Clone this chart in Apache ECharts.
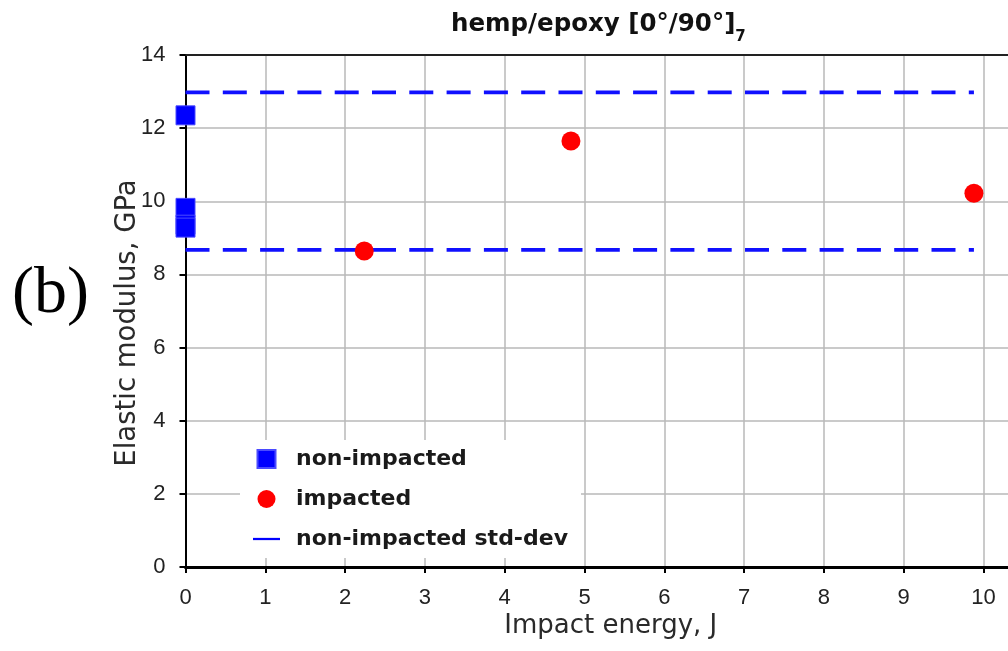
<!DOCTYPE html>
<html>
<head>
<meta charset="utf-8">
<title>hemp/epoxy [0°/90°]7 – elastic modulus vs impact energy</title>
<script src="https://cdn.jsdelivr.net/npm/echarts@6/dist/echarts.min.js"></script>
<style>
  html, body { margin: 0; padding: 0; background: #ffffff; }
  #chart { width: 1008px; height: 651px; }
</style>
</head>
<body>
<div id="chart"></div>
<script>
// Specimens tested without impact (all at 0 J)
const nonImpactedEnergy = [0, 0, 0, 0];
const nonImpactedModulus = [12.35, 9.82, 9.36, 9.28];

// Specimens tested after impact
const impactedEnergy = [2.24, 4.83, 9.88];
const impactedModulus = [8.64, 11.65, 10.22];

// Standard-deviation band of the non-impacted set
const stdDevEnergy = [0, 9.88];
const stdDevUpper = [12.98, 12.98];
const stdDevLower = [8.67, 8.67];

// Axis ticks; the energy axis runs a little past the last labelled tick
const energyTicks = [0, 1, 2, 3, 4, 5, 6, 7, 8, 9, 10];
const modulusTicks = [0, 2, 4, 6, 8, 10, 12, 14];
const energyAxisEnd = 10.307;

const BLUE = '#0000ff';
const RED = '#ff0000';
const GRID_GREY = '#b8b8b8';
const TEXT_FONT = 'DejaVu Sans';
const NUM_FONT = 'Liberation Sans';

const pairs = (xs, ys) => xs.map((x, i) => [x, ys[i]]);

const chart = echarts.init(document.getElementById('chart'), null, { renderer: 'canvas' });

const commonSplit = { show: true, showMaxLine: false, lineStyle: { color: GRID_GREY, width: 1.5 } };

chart.setOption({
  animation: false,
  backgroundColor: '#ffffff',
  title: {
    left: 451,
    top: 12,
    padding: 0,
    text: '{t|hemp/epoxy [0°/90°]}{s|7}',
    textStyle: {
      rich: {
        t: { fontFamily: TEXT_FONT, fontWeight: 'bold', fontSize: 24.5, color: '#111', lineHeight: 30, verticalAlign: 'top' },
        s: { fontFamily: TEXT_FONT, fontWeight: 'bold', fontSize: 15, color: '#111', lineHeight: 16, verticalAlign: 'top', padding: [18, 0, 0, 0] }
      }
    }
  },
  graphic: [{
    type: 'text',
    left: 12,
    top: 262,
    style: {
      text: '(b)',
      font: '66px "Liberation Serif"',
      fill: '#000'
    }
  }],
  legend: {
    orient: 'vertical',
    left: 240,
    top: 440,
    padding: [8, 13, 8, 13],
    backgroundColor: '#ffffff',
    itemWidth: 27,
    itemHeight: 18,
    itemGap: 18,
    textStyle: {
      fontFamily: TEXT_FONT,
      fontWeight: 'bold',
      fontSize: 22,
      color: '#1a1a1a',
      padding: [0, 0, 0, 11]
    },
    data: [
      { name: 'non-impacted', icon: 'path://M0,0H10V10H0Z' },
      { name: 'impacted', icon: 'circle' },
      { name: 'non-impacted std-dev', icon: 'path://M0,0H36V3H0Z' }
    ]
  },
  grid: {
    left: 185.5,
    top: 55,
    bottom: 84,
    right: 0,
    containLabel: false
  },
  xAxis: [
    {
      type: 'value',
      position: 'bottom',
      min: energyTicks[0],
      max: energyAxisEnd,
      interval: energyTicks[1] - energyTicks[0],
      name: 'Impact energy, J',
      nameLocation: 'middle',
      nameGap: 46,
      nameMoveOverlap: false,
      nameTextStyle: { fontFamily: TEXT_FONT, fontSize: 26, color: '#2a2a2a', padding: [0, 0, 0, 28] },
      axisLine: { show: true, onZero: false, lineStyle: { color: '#000', width: 3 } },
      axisTick: { show: true, inside: false, length: 6, lineStyle: { color: '#000', width: 2 } },
      axisLabel: {
        margin: 20,
        showMaxLabel: false,
        fontFamily: NUM_FONT,
        fontSize: 22,
        color: '#222',
        formatter: v => (energyTicks.includes(v) ? String(v) : '')
      },
      splitLine: commonSplit
    },
    {
      // frame line along the top of the plot
      type: 'value',
      position: 'top',
      min: energyTicks[0],
      max: energyAxisEnd,
      interval: energyTicks[1] - energyTicks[0],
      axisLine: { show: true, onZero: false, lineStyle: { color: '#222', width: 2 } },
      axisTick: { show: false },
      axisLabel: { show: false },
      splitLine: { show: false }
    }
  ],
  yAxis: {
    type: 'value',
    min: modulusTicks[0],
    max: modulusTicks[modulusTicks.length - 1],
    interval: modulusTicks[1] - modulusTicks[0],
    name: 'Elastic modulus, GPa',
    nameLocation: 'middle',
    nameRotate: 90,
    nameGap: 44,
    nameMoveOverlap: false,
    nameTextStyle: { fontFamily: TEXT_FONT, fontSize: 27.5, color: '#2a2a2a', padding: [0, 24, 0, 0] },
    axisLine: { show: true, onZero: false, lineStyle: { color: '#000', width: 2 } },
    axisTick: { show: true, inside: false, length: 6, lineStyle: { color: '#000', width: 2 } },
    axisLabel: { margin: 20, fontFamily: NUM_FONT, fontSize: 22, color: '#222' },
    splitLine: { show: true, lineStyle: { color: GRID_GREY, width: 1.5 } }
  },
  series: [
    {
      name: 'non-impacted std-dev',
      type: 'line',
      data: pairs(stdDevEnergy, stdDevUpper),
      symbol: 'none',
      color: BLUE,
      lineStyle: { color: '#1010ff', width: 3.8, type: [24, 13.3] },
      z: 2
    },
    {
      name: 'non-impacted std-dev',
      type: 'line',
      data: pairs(stdDevEnergy, stdDevLower),
      symbol: 'none',
      color: BLUE,
      lineStyle: { color: '#1010ff', width: 3.8, type: [24, 13.3] },
      z: 2
    },
    {
      name: 'non-impacted',
      type: 'scatter',
      data: pairs(nonImpactedEnergy, nonImpactedModulus),
      symbol: 'rect',
      symbolSize: 19,
      color: BLUE,
      itemStyle: { color: BLUE, opacity: 1, borderColor: '#4a4aff', borderWidth: 1 },
      z: 3
    },
    {
      name: 'impacted',
      type: 'scatter',
      data: pairs(impactedEnergy, impactedModulus),
      symbol: 'circle',
      symbolSize: 19,
      color: RED,
      itemStyle: { color: RED, opacity: 1 },
      z: 3
    }
  ]
});
</script>
</body>
</html>
